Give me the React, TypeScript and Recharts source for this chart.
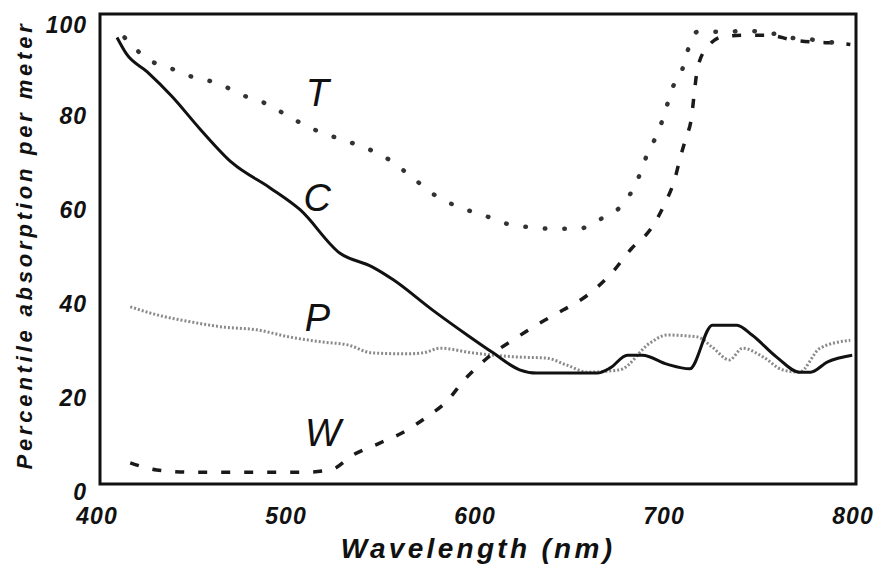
import { LineChart, Line, XAxis, YAxis, ReferenceArea, ReferenceDot } from 'recharts';

// wavelength (nm) / percentile absorption per meter
const cWave = [409, 414, 425, 438, 453, 470, 490, 506, 527, 544, 555, 576, 595, 608, 622, 631, 663, 670, 679, 687, 700, 712, 724, 737, 745, 758, 770, 776, 785, 798];
const cValue = [95, 91.5, 87.7, 82.5, 75.5, 68.3, 63, 58.3, 49.1, 46.2, 43.5, 37, 31.5, 27.9, 24.3, 23.6, 23.6, 24.7, 27.4, 27.4, 25.5, 24.5, 33.8, 33.8, 31.7, 27, 23.8, 23.8, 26, 27.4];

const tWave = [413, 426, 437, 449, 462, 475, 488, 502, 514, 527, 540, 553, 565, 577, 590, 603, 614, 626, 640, 653, 665, 677, 684, 689, 695, 699, 702, 708, 711, 716, 730, 742, 754, 765, 778, 790, 797];
const tValue = [95, 90.2, 88.5, 86.6, 85.3, 82.8, 80.9, 77.7, 75.3, 73.4, 71.6, 69, 65.3, 61.5, 58.9, 57.2, 55.5, 54.7, 54.3, 54.3, 56.4, 59.7, 64.3, 69.6, 74.7, 79.1, 83.4, 88.1, 92.3, 96.2, 96.2, 96.4, 96, 95, 94.5, 93.8, 93.3];

const wWave = [416, 430, 450, 480, 507, 522, 534, 548, 560, 573, 584, 592, 604, 621, 633, 645, 658, 671, 681, 692, 699, 704, 707, 710, 713, 714.5, 716, 721, 730, 742, 754, 766, 778, 790, 797];
const wValue = [4.5, 3, 2.5, 2.5, 2.5, 3, 6.2, 8.7, 10.9, 14.3, 17.8, 21.8, 26.5, 31.3, 34.3, 37, 40.2, 45, 50, 54.6, 59.8, 64.7, 69.4, 73.6, 78.1, 83.4, 88.1, 92.8, 95.2, 95.5, 95.5, 94.5, 94, 93.8, 93.5];

const pWave = [416, 430, 448, 465, 483, 500, 518, 531, 544, 562, 571, 580, 597, 622, 636, 647, 658, 675, 691, 700, 716, 724, 733, 740, 751, 761, 770, 781, 797];
const pValue = [37.7, 36, 34.5, 33.4, 32.8, 31.3, 30.2, 29.6, 27.9, 27.7, 27.9, 28.9, 27.9, 27, 26.8, 25.3, 23.8, 24.3, 30, 31.7, 31.3, 29.1, 26.4, 28.9, 27, 24.3, 23.8, 28.9, 30.6];

const xTicks = [400, 500, 600, 700, 800];
const yTicks = [0, 20, 40, 60, 80, 100];

const curveLabels = [
  { name: 'T', wave: 515, value: 83.2 },
  { name: 'C', wave: 515, value: 61 },
  { name: 'P', wave: 515, value: 35.5 },
  { name: 'W', wave: 518, value: 10.9 },
];

const toPoints = (wave: number[], value: number[]) => wave.map((w, i) => ({ wave: w, value: value[i] }));

const cData = toPoints(cWave, cValue);
const tData = toPoints(tWave, tValue);
const wData = toPoints(wWave, wValue);
const pData = toPoints(pWave, pValue);

const axisFont = '"Liberation Sans", Arial, sans-serif';

const XTick = ({ x, y, payload }: any) => (
  <text x={x - 3} y={y + 32} textAnchor="middle" dominantBaseline="central"
    fontFamily={axisFont} fontSize={23} fontWeight="bold" fontStyle="italic" letterSpacing={1} fill="#111">
    {payload.value}
  </text>
);

const YTick = ({ x, y, payload }: any) => (
  <text x={x - 13} y={y + 8} textAnchor="end" dominantBaseline="central"
    fontFamily={axisFont} fontSize={23} fontWeight="bold" fontStyle="italic" letterSpacing={1} fill="#111">
    {payload.value}
  </text>
);

const XTitle = ({ viewBox }: any) => (
  <text x={viewBox.x + viewBox.width / 2} y={viewBox.y + 64} textAnchor="middle" dominantBaseline="central"
    fontFamily={axisFont} fontSize={28} fontWeight="bold" fontStyle="italic" letterSpacing={3.3} fill="#111">
    Wavelength (nm)
  </text>
);

const YTitle = ({ viewBox }: any) => {
  const cx = viewBox.x + 16;
  const cy = viewBox.y + viewBox.height / 2 - 4;
  return (
    <text x={cx} y={cy} transform={`rotate(-90 ${cx} ${cy})`} textAnchor="middle" dominantBaseline="central"
      fontFamily={axisFont} fontSize={22} fontWeight="bold" fontStyle="italic" letterSpacing={3.8} fill="#111">
      Percentile absorption per meter
    </text>
  );
};

export default function App() {
  return (
    <div style={{ width: 873, height: 568, background: '#fff' }}>
      <LineChart width={873} height={568} margin={{ top: 6, right: 25, bottom: 0, left: 0 }}>
        <XAxis dataKey="wave" type="number" domain={[400, 800]} ticks={xTicks} allowDataOverflow
          height={92} tickSize={0} tickMargin={0} axisLine={false} tick={<XTick />} label={<XTitle />} />
        <YAxis type="number" domain={[0, 100]} ticks={yTicks} allowDataOverflow
          width={92} tickSize={0} tickMargin={0} axisLine={false} tick={<YTick />} label={<YTitle />} />
        <ReferenceArea x1={400} x2={800} y1={0} y2={100} fill="none" stroke="#111" strokeWidth={3} />

        <Line data={pData} dataKey="value" type="monotone" stroke="#8a8a8a" strokeWidth={3}
          strokeDasharray="2 2" dot={false} isAnimationActive={false} />
        <Line data={wData} dataKey="value" type="monotone" stroke="#1a1a1a" strokeWidth={3.5}
          strokeDasharray="9 14" dot={false} isAnimationActive={false} />
        <Line data={tData} dataKey="value" type="monotone" stroke="#333" strokeWidth={4.5}
          strokeDasharray="0.5 19" strokeLinecap="round" dot={false} isAnimationActive={false} />
        <Line data={cData} dataKey="value" type="monotone" stroke="#111" strokeWidth={3}
          strokeLinejoin="round" dot={false} isAnimationActive={false} />

        {curveLabels.map((l) => (
          <ReferenceDot key={l.name} x={l.wave} y={l.value} r={0} fill="none" stroke="none"
            label={{ value: l.name, position: 'center', fontSize: 38, fontStyle: 'italic', fontFamily: axisFont, fill: '#111' }} />
        ))}
      </LineChart>
    </div>
  );
}
